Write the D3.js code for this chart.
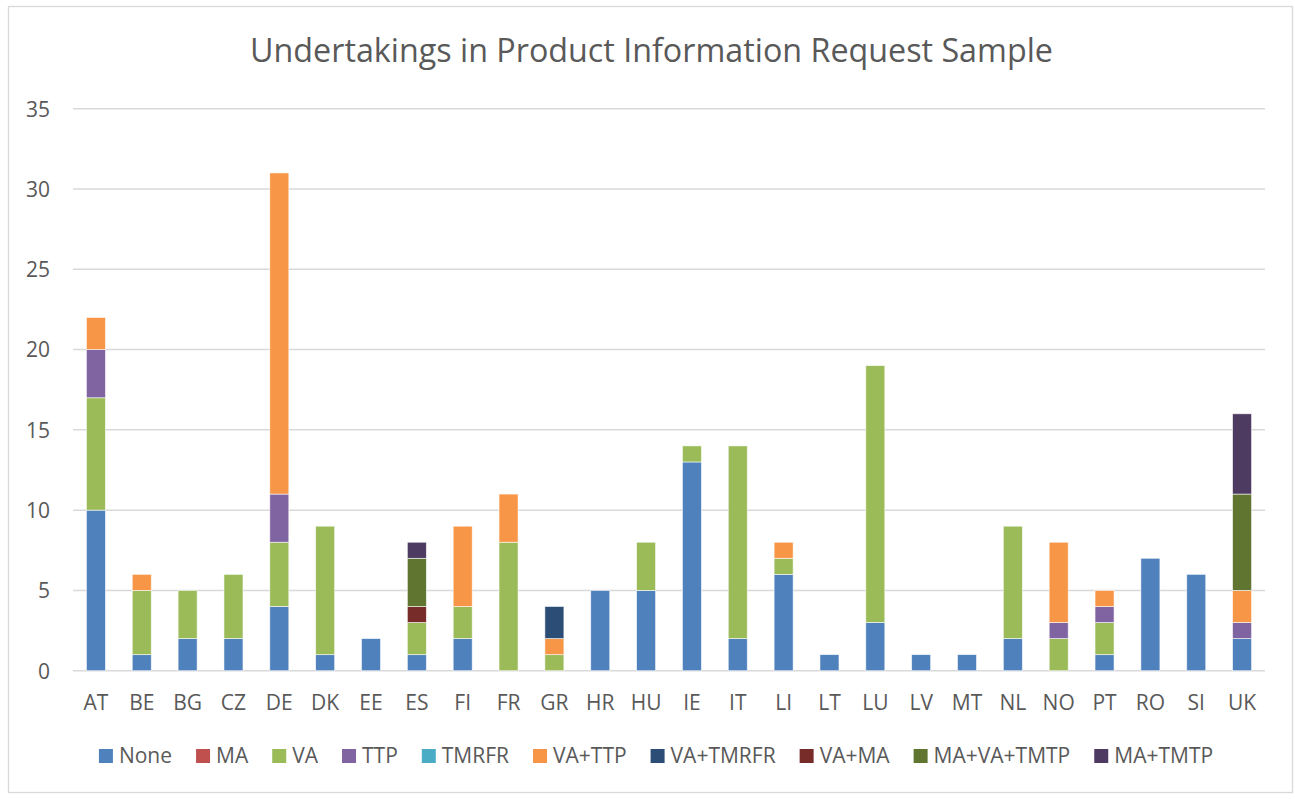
<!DOCTYPE html>
<html><head><meta charset="utf-8">
<script src="https://cdn.jsdelivr.net/npm/d3@7"></script>
<style>body{margin:0;background:#fff}svg{display:block}</style>
</head><body><svg id="c" width="1295" height="799"></svg>
<script>
const categories = ["AT","BE","BG","CZ","DE","DK","EE","ES","FI","FR","GR","HR","HU","IE","IT","LI","LT","LU","LV","MT","NL","NO","PT","RO","SI","UK"];
const seriesNames = ["None","MA","VA","TTP","TMRFR","VA+TTP","VA+TMRFR","VA+MA","MA+VA+TMTP","MA+TMTP"];
const seriesColors = ["#4F81BD","#C0504D","#9BBB59","#8064A2","#4BACC6","#F79646","#2C4D75","#772C2A","#5F7530","#4D3B62"];
//                 AT BE BG CZ DE DK EE ES FI FR GR HR HU IE IT LI LT LU LV MT NL NO PT RO SI UK
const None      = [10, 1, 2, 2, 4, 1, 2, 1, 2, 0, 0, 5, 5,13, 2, 6, 1, 3, 1, 1, 2, 0, 1, 7, 6, 2];
const MA        = [ 0, 0, 0, 0, 0, 0, 0, 0, 0, 0, 0, 0, 0, 0, 0, 0, 0, 0, 0, 0, 0, 0, 0, 0, 0, 0];
const VA        = [ 7, 4, 3, 4, 4, 8, 0, 2, 2, 8, 1, 0, 3, 1,12, 1, 0,16, 0, 0, 7, 2, 2, 0, 0, 0];
const TTP       = [ 3, 0, 0, 0, 3, 0, 0, 0, 0, 0, 0, 0, 0, 0, 0, 0, 0, 0, 0, 0, 0, 1, 1, 0, 0, 1];
const TMRFR     = [ 0, 0, 0, 0, 0, 0, 0, 0, 0, 0, 0, 0, 0, 0, 0, 0, 0, 0, 0, 0, 0, 0, 0, 0, 0, 0];
const VA_TTP    = [ 2, 1, 0, 0,20, 0, 0, 0, 5, 3, 1, 0, 0, 0, 0, 1, 0, 0, 0, 0, 0, 5, 1, 0, 0, 2];
const VA_TMRFR  = [ 0, 0, 0, 0, 0, 0, 0, 0, 0, 0, 2, 0, 0, 0, 0, 0, 0, 0, 0, 0, 0, 0, 0, 0, 0, 0];
const VA_MA     = [ 0, 0, 0, 0, 0, 0, 0, 1, 0, 0, 0, 0, 0, 0, 0, 0, 0, 0, 0, 0, 0, 0, 0, 0, 0, 0];
const MA_VA_TMTP= [ 0, 0, 0, 0, 0, 0, 0, 3, 0, 0, 0, 0, 0, 0, 0, 0, 0, 0, 0, 0, 0, 0, 0, 0, 0, 6];
const MA_TMTP   = [ 0, 0, 0, 0, 0, 0, 0, 1, 0, 0, 0, 0, 0, 0, 0, 0, 0, 0, 0, 0, 0, 0, 0, 0, 0, 5];
const yTicks = [0,5,10,15,20,25,30,35];
const titleText = "Undertakings in Product Information Request Sample";

const seriesValues = [None,MA,VA,TTP,TMRFR,VA_TTP,VA_TMRFR,VA_MA,MA_VA_TMTP,MA_TMTP];
const table = categories.map((c,i)=>{const r={cat:c}; seriesNames.forEach((s,j)=>r[s]=seriesValues[j][i]); return r;});

const svg = d3.select("#c");
const FONT = "'Open Sans', 'Noto Sans', sans-serif";
const TXT = "#595959", GRID = "#d9d9d9";
const FS = "21px";

svg.append("rect").attr("x",8.5).attr("y",6.5).attr("width",1284).attr("height",786)
  .attr("fill","#fff").attr("stroke",GRID).attr("stroke-width",1.3);

const x = d3.scaleBand().domain(categories).range([73,1265]).paddingInner(0.585).paddingOuter(0.2925);
const y = d3.scaleLinear().domain([0,35]).range([670.7,108.7]);

// gridlines
svg.append("g").selectAll("line").data(yTicks).join("line")
  .attr("x1",73).attr("x2",1265).attr("y1",d=>y(d)).attr("y2",d=>y(d))
  .attr("stroke",GRID).attr("stroke-width",1.5);

// y axis labels
const yAxis = d3.axisLeft(y).tickValues(yTicks).tickSize(0).tickPadding(0);
const gy = svg.append("g").attr("transform","translate(50,0)").call(yAxis);
gy.select(".domain").remove();
gy.selectAll("text").attr("fill",TXT).style("font-family",FONT).style("font-size",FS).attr("dy","0.35em");

// stacked bars
const stack = d3.stack().keys(seriesNames);
const layers = stack(table);
const color = d3.scaleOrdinal().domain(seriesNames).range(seriesColors);
svg.append("g").selectAll("g").data(layers).join("g").attr("fill",d=>color(d.key))
  .selectAll("rect").data(d=>d.filter(p=>p[1]-p[0]>0)).join("rect")
  .attr("x",d=>x(d.data.cat)).attr("width",x.bandwidth())
  .attr("y",d=>y(d[1])).attr("height",d=>y(d[0])-y(d[1]))
  .attr("stroke","#fff").attr("stroke-width",0.8).attr("stroke-opacity",0.7);

// x axis
const xAxis = d3.axisBottom(x).tickSize(0).tickPadding(0);
const gx = svg.append("g").attr("transform","translate(0,710)").call(xAxis);
gx.select(".domain").remove();
gx.selectAll("text").attr("fill",TXT).style("font-family",FONT).style("font-size",FS).attr("dy","0");

// title fit to width
const title = svg.append("text").attr("x",651.5).attr("y",62).attr("text-anchor","middle")
  .attr("fill",TXT).style("font-family",FONT).style("font-size","30px").text(titleText);
const tw = title.node().getComputedTextLength();
title.style("font-size",(30*803/tw)+"px");

// legend
const lg = svg.append("g");
let cx = 0;
seriesNames.forEach((s,i)=>{
  const g = lg.append("g").attr("transform",`translate(${cx},0)`);
  g.append("rect").attr("x",0).attr("y",749).attr("width",14).attr("height",14).attr("fill",seriesColors[i]);
  const t = g.append("text").attr("x",20).attr("y",763).attr("fill",TXT)
    .style("font-family",FONT).style("font-size",FS).text(s);
  cx += 20 + t.node().getComputedTextLength() + 24;
});
const total = cx - 24;
lg.attr("transform",`translate(${656 - total/2},0)`);
</script></body></html>
